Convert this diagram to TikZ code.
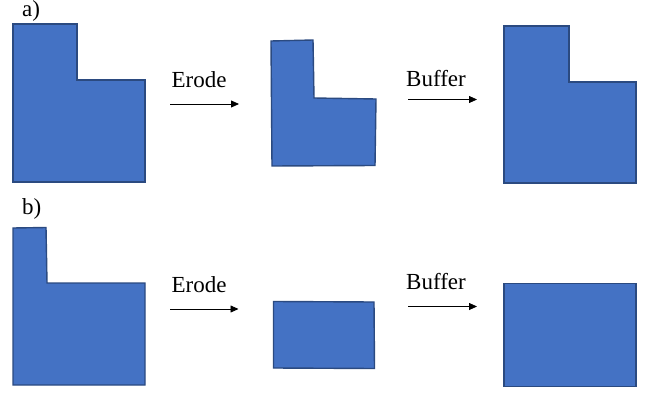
\documentclass[tikz,border=0pt]{standalone}
\usepackage{fontspec}
\setmainfont{Liberation Serif}
\usetikzlibrary{arrows.meta}
\definecolor{shapefill}{HTML}{4472C4}
\definecolor{shapeline}{HTML}{2B4A80}
\begin{document}
\begin{tikzpicture}[x=1pt,y=-1pt,
  region/.style={fill=shapefill,draw=shapeline,line width=1.4pt,line join=miter},
  oplabel/.style={anchor=base,inner sep=0pt,font=\fontsize{23}{27}\selectfont},
  panellabel/.style={anchor=base west,inner sep=0pt,font=\fontsize{23}{27}\selectfont},
  oparrow/.style={-{Triangle[length=8pt,width=7pt]},line width=0.8pt,black}]
\useasboundingbox (0,0) rectangle (645,393);

% panel a: L-shape, eroded, then buffered back
\node[panellabel] (la) at (22,16.5) {a)};
\draw[region] (13,24) -- (77,24) -- (77,80) -- (145,80) -- (145,182) -- (13,182) -- cycle;
\draw[region] (271,41) -- (313,40) -- (314,98) -- (376,99) -- (375,165.5) -- (272,166) -- cycle;
\draw[region] (504,26) -- (569,26) -- (569,82) -- (636,82) -- (636,183) -- (504,183) -- cycle;

\node[oplabel] (ea) at (199,88) {Erode};
\coordinate (ea1) at (170,104);
\coordinate (ea2) at (239,104);
\draw[oparrow] (ea1) -- (ea2);

\node[oplabel] (ba) at (436,87) {Buffer};
\coordinate (ba1) at (408,99.5);
\coordinate (ba2) at (477,99.5);
\draw[oparrow] (ba1) -- (ba2);

% panel b: thin arm vanishes under erosion
\node[panellabel] (lb) at (22,214.5) {b)};
\draw[region] (13,228) -- (46,227.5) -- (47,283) -- (145,283) -- (145,385) -- (13,385) -- cycle;
\draw[region] (273.5,301.5) -- (374,302) -- (374.5,368.5) -- (273.5,368) -- cycle;
\draw[region] (504,283.5) -- (636,283.5) -- (636,386.5) -- (504,386.5) -- cycle;

\node[oplabel] (eb) at (199,292.5) {Erode};
\coordinate (eb1) at (170,309);
\coordinate (eb2) at (238.5,309);
\draw[oparrow] (eb1) -- (eb2);

\node[oplabel] (bb) at (436,289.5) {Buffer};
\coordinate (bb1) at (408,306.5);
\coordinate (bb2) at (477,306.5);
\draw[oparrow] (bb1) -- (bb2);
\end{tikzpicture}
\end{document}
